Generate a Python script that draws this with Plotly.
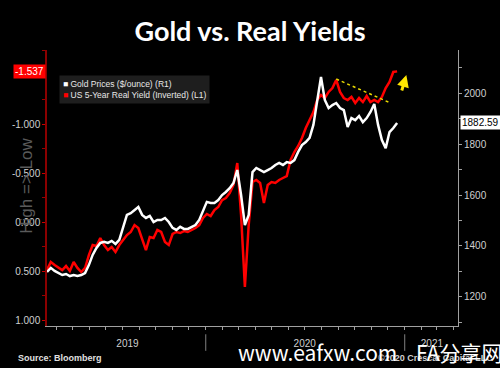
import datetime as dt
import plotly.graph_objects as go

# ---------------- data ----------------
start_date = dt.date(2019, 3, 15)
real_yield = [0.490, 0.408, 0.439, 0.469, 0.490, 0.449, 0.500, 0.408, 0.469, 0.510,
              0.469, 0.337, 0.235, 0.245, 0.163, 0.235, 0.286, 0.255, 0.306, 0.235,
              0.184, 0.133, 0.102, 0.031, 0.061, 0.184, 0.286, 0.153, 0.163, 0.082,
              0.102, 0.204, 0.235, 0.122, 0.102, 0.112, 0.092, 0.102, 0.082, 0.061,
              0.031, -0.041, -0.082, -0.061, -0.122, -0.153, -0.224, -0.245, -0.296, -0.378,
              -0.602, -0.071, 0.663, 0.031, -0.408, -0.429, -0.398, -0.194, -0.378, -0.408,
              -0.398, -0.429, -0.449, -0.469, -0.633, -0.714, -0.776, -0.857, -0.959, -1.041,
              -1.122, -1.245, -1.296, -1.265, -1.327, -1.367, -1.449, -1.327, -1.265, -1.245,
              -1.276, -1.214, -1.265, -1.224, -1.286, -1.224, -1.245, -1.224, -1.276, -1.367,
              -1.429, -1.531, -1.537]
gold = [1298, 1314, 1302, 1294, 1286, 1290, 1282, 1286, 1282, 1286,
        1294, 1325, 1365, 1392, 1412, 1416, 1412, 1420, 1408, 1424,
        1471, 1522, 1529, 1541, 1553, 1522, 1510, 1518, 1494, 1502,
        1502, 1510, 1494, 1471, 1463, 1475, 1467, 1467, 1475, 1482,
        1502, 1541, 1573, 1569, 1569, 1580, 1600, 1612, 1627, 1647,
        1698, 1600, 1482, 1522, 1690, 1706, 1698, 1690, 1698, 1706,
        1718, 1726, 1718, 1729, 1726, 1737, 1769, 1796, 1808, 1824,
        1875, 1973, 2063, 1973, 1941, 1953, 1961, 1941, 1933, 1867,
        1902, 1894, 1910, 1886, 1902, 1926, 1957, 1875, 1816, 1784,
        1847, 1863, 1882.59]
dates = [start_date + dt.timedelta(days=7 * i) for i in range(len(gold))]

left_tickvals = [-1.0, -0.5, 0.0, 0.5, 1.0]
left_ticktext = ["-1.000", "-0.500", "0.000", "0.500", "1.000"]
right_tickvals = [1200, 1400, 1600, 1800, 2000]
year_label_dates = ["2019-08-10", "2020-07-01", "2021-02-20"]
year_labels = ["2019", "2020", "2021"]
year_breaks = ["2020-01-01", "2021-01-01"]
trend_x = ["2020-08-28", "2020-12-06"]
trend_y = [-1.459, -1.214]

title = "Gold vs. Real Yields"
gold_name = "Gold Prices ($/ounce) (R1)"
yield_name = "US 5-Year Real Yield (Inverted) (L1)"
gold_color = "white"
yield_color = "#ff0000"

# ---------------- figure ----------------
fig = go.Figure()
fig.add_trace(go.Scatter(x=dates, y=gold, yaxis="y2", mode="lines", name=gold_name,
                         line=dict(color=gold_color, width=2.5), showlegend=False))
fig.add_trace(go.Scatter(x=dates, y=real_yield, yaxis="y", mode="lines", name=yield_name,
                         line=dict(color=yield_color, width=2.5), showlegend=False))

axis_font = dict(family="Liberation Sans", size=10, color="#cfcfcf")

fig.update_layout(
    width=500, height=368,
    margin=dict(l=35, r=42, t=50, b=42),
    paper_bgcolor="black", plot_bgcolor="black",
    title=dict(text="<b>" + title + "</b>", x=0.5, xanchor="center",
               y=1 - 32 / 368, yanchor="middle",
               font=dict(family="Lato", size=27, color="white")),
    showlegend=False,
    xaxis=dict(type="date", range=["2019-03-15", "2021-04-09"],
               showgrid=False, zeroline=False,
               showline=True, linecolor="#a0a0a0", linewidth=1,
               tickvals=year_label_dates, ticktext=year_labels,
               ticks="", ticklabelstandoff=8, tickfont=axis_font,
               minor=dict(dtick="M1", ticks="outside", ticklen=3, tickcolor="#a0a0a0",
                          showgrid=False, tick0="2019-04-01")),
    yaxis=dict(range=[1.061, -1.755], showgrid=False, zeroline=False,
               showline=True, linecolor="#8b0000", linewidth=1.5,
               tickvals=left_tickvals, ticktext=left_ticktext,
               ticks="outside", ticklen=3, tickcolor="#cc0000",
               tickfont=axis_font,
               minor=dict(dtick=0.25, tick0=0.25, ticks="outside", ticklen=3,
                          tickcolor="#990000", showgrid=False)),
    yaxis2=dict(range=[1086, 2169], overlaying="y", side="right",
                showgrid=False, zeroline=False,
                showline=True, linecolor="#a0a0a0", linewidth=1,
                tickvals=right_tickvals, ticks="outside", ticklen=3, tickcolor="#a0a0a0",
                tickfont=axis_font,
                minor=dict(dtick=200, tick0=1100, ticks="outside", ticklen=3,
                           tickcolor="#a0a0a0", showgrid=False)),
)

# compact legend box
legend_text = ("<span style='color:%s'>■</span> %s<br><span style='color:%s'>■</span> %s"
               % (gold_color, gold_name, yield_color, yield_name))
fig.add_annotation(xref="paper", yref="paper", x=0.03, y=0.909, xanchor="left", yanchor="top",
                   text=legend_text, showarrow=False, align="left", bgcolor="#1e1e1e",
                   borderpad=3, font=dict(family="Liberation Sans", size=8.5, color="#e8e8e8"))

# year separators below the x-axis
for d in year_breaks:
    fig.add_shape(type="line", xref="x", yref="paper", x0=d, x1=d, y0=-0.03, y1=-0.09,
                  line=dict(color="#808080", width=1))

# yellow dotted trend line
fig.add_trace(go.Scatter(x=trend_x, y=trend_y, mode="lines", showlegend=False,
                         line=dict(color="#e8d800", width=1.5, dash="dot")))

# yellow arrow
fig.add_annotation(x="2021-01-04", y=-1.50, xref="x", yref="y", ax=-5, ay=17,
                   showarrow=True, arrowhead=2, arrowsize=0.8, arrowwidth=3,
                   arrowcolor="#ffe600", text="")

# last value tags
fig.add_annotation(xref="paper", x=0, yref="y", y=real_yield[-1], xanchor="right",
                   text="-1.537", showarrow=False, bgcolor="#ff0000",
                   font=dict(family="Liberation Sans", size=10, color="white"),
                   borderpad=1, xshift=-1)
fig.add_annotation(xref="paper", x=1, yref="y2", y=gold[-1], xanchor="left",
                   text="1882.59", showarrow=False, bgcolor="white",
                   font=dict(family="Liberation Sans", size=10, color="black"),
                   borderpad=1, xshift=2)

# vertical axis note
fig.add_annotation(xref="paper", x=-0.05, yref="paper", y=0.51, textangle=-90,
                   text="High => Low", showarrow=False, xanchor="center",
                   font=dict(family="Liberation Sans", size=17, color="#5a5a5a"))

# footer
fig.add_annotation(xref="paper", yref="paper", x=-0.075, y=-0.116, xanchor="left", yanchor="middle",
                   text="<b>Source: Bloomberg</b>", showarrow=False,
                   font=dict(family="Liberation Sans", size=9, color="#e0e0e0"))
fig.add_annotation(xref="paper", yref="paper", x=1.09, y=-0.116, xanchor="right", yanchor="middle",
                   text="<b>©2020 Crescat Capital LLC</b>", showarrow=False,
                   font=dict(family="Liberation Sans", size=9, color="#cfcfcf"))
# watermark
fig.add_annotation(xref="paper", yref="paper", x=0.46, y=-0.094, xanchor="left", yanchor="middle",
                   text="www.eafxw.com    FA分享网", showarrow=False,
                   font=dict(family="Noto Sans CJK SC", size=21, color="white"))

fig.write_html("out.html", config={"displayModeBar": False},
               post_script="document.body.style.margin='0';")
